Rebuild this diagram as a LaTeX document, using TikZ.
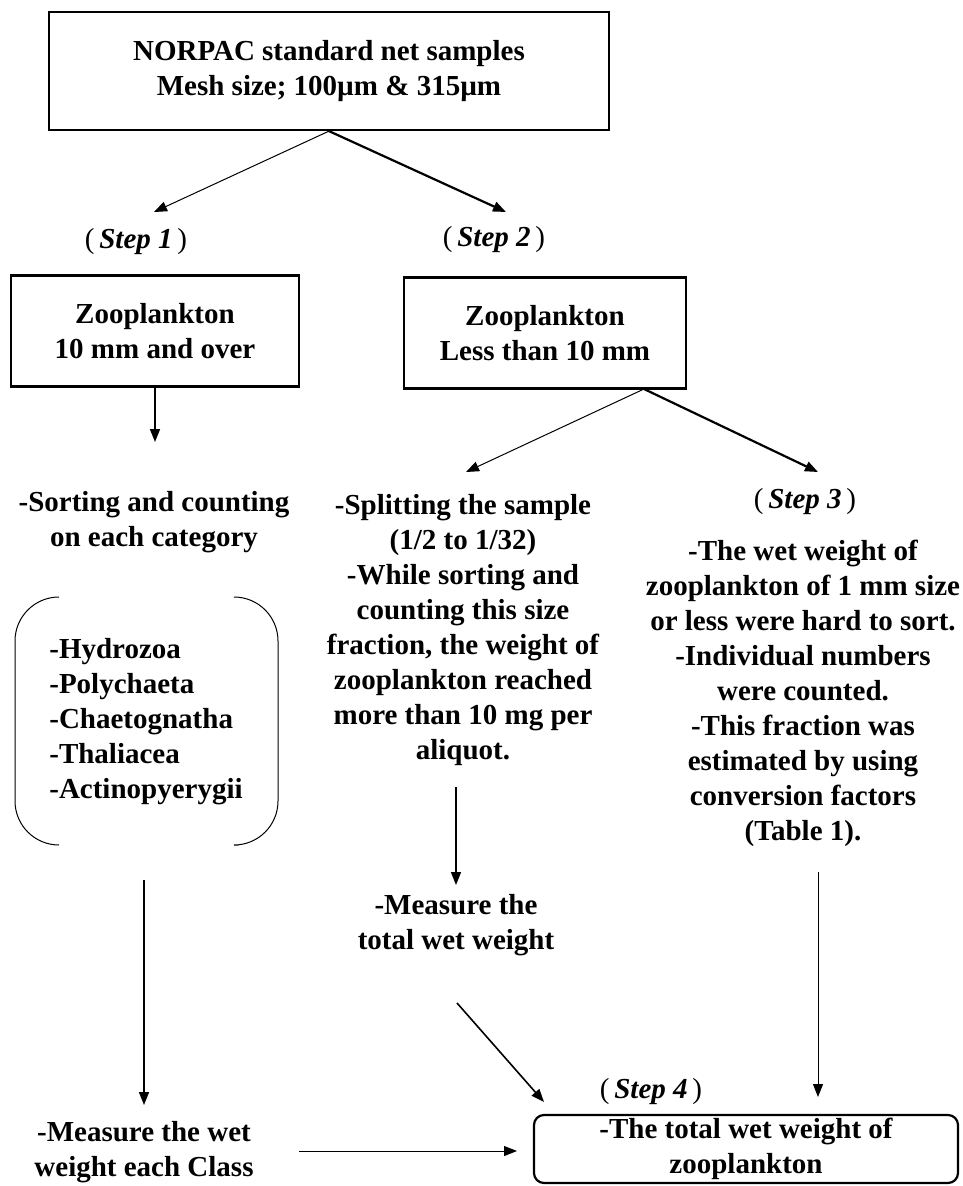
\documentclass[tikz,border=0pt]{standalone}
\usepackage{fontspec}
\setmainfont{Liberation Serif}
\usetikzlibrary{arrows.meta,positioning}
\newcommand{\steplabel}[1]{\textmd{(}\,\textit{Step #1}\,\textmd{)}}

\begin{document}
\begin{tikzpicture}[x=1pt, y=-1pt,
    font=\fontsize{29}{35}\selectfont\bfseries,
    block/.style={rectangle, draw, line width=2.2pt, align=center, inner sep=0pt},
    txt/.style={align=center, inner sep=0pt},
    line/.style={draw, -{Triangle[length=13pt,width=10pt]}, line width=1.6pt},
    thinline/.style={line, line width=1pt},
    thickline/.style={line, line width=2.2pt}
    ]
    \useasboundingbox (0,0) rectangle (963,1186);

    % nodes
    \node[block, minimum width=560pt, minimum height=118pt] (norpac) at (329,71) {NORPAC standard net samples\\Mesh size; 100µm \& 315µm};
    \node[txt] (step1) at (136,242) {\steplabel{1}};
    \node[txt] (step2) at (494,240) {\steplabel{2}};
    \node[block, minimum width=288pt, minimum height=111pt] (large) at (155,331) {Zooplankton\\10 mm and over};
    \node[block, minimum width=282pt, minimum height=111pt] (small) at (545,333) {Zooplankton\\Less than 10 mm};
    \node[txt] (sorting) at (154,522) {-Sorting and counting\\on each category};
    \node[txt] (splitting) at (463,630) {-Splitting the sample\\(1/2 to 1/32)\\-While sorting and\\counting this size\\fraction, the weight of\\zooplankton reached\\more than 10 mg per\\aliquot.};
    \node[txt] (step3) at (805,502) {\steplabel{3}};
    \node[txt] (hardsort) at (803,693) {-The wet weight of\\zooplankton of 1 mm size\\or less were hard to sort.\\-Individual numbers\\were counted.\\-This fraction was\\estimated by using\\conversion factors\\(Table 1).};
    \node[txt, align=left] (taxa) at (146,722) {-Hydrozoa\\-Polychaeta\\-Chaetognatha\\-Thaliacea\\-Actinopyerygii};
    \node[txt] (measure) at (456,925) {-Measure the\\total wet weight};
    \node[txt] (classwt) at (144,1152) {-Measure the wet\\weight each Class};
    \node[txt] (step4) at (651,1092) {\steplabel{4}};
    \node[block, rounded corners=10pt, minimum width=424pt, minimum height=68pt] (total) at (746,1149) {-The total wet weight of\\zooplankton};

    % bracket round the taxa
    \draw[line width=1pt, rounded corners=44pt] (59,597) -- (15,597) -- (15,845) -- (59,845);
    \draw[line width=1pt, rounded corners=44pt] (238,597) -- (278,597) -- (278,845) -- (238,845);

    % free ends of the arrows
    \coordinate (tip1) at (154,212);
    \coordinate (tip2) at (506,212);
    \coordinate (tip3) at (155,442);
    \coordinate (fork) at (644,389);
    \coordinate (tip4) at (466,472);
    \coordinate (tip5) at (818,472);
    \coordinate (from6) at (456,787);
    \coordinate (tip6) at (456,885);
    \coordinate (from7) at (818,872);
    \coordinate (tip7) at (818,1097);
    \coordinate (from8) at (144,880);
    \coordinate (tip8) at (144,1105);
    \coordinate (from9) at (457,1003);
    \coordinate (tip9) at (544,1102);
    \coordinate (from10) at (299,1151);
    \coordinate (tip10) at (517,1151);

    % lines
    \path[thinline] (norpac.south) -- (tip1);
    \path[thickline] (norpac.south) -- (tip2);
    \path[line] (large.south) -- (tip3);
    \path[thinline] (fork) -- (tip4);
    \path[thickline] (fork) -- (tip5);
    \path[line] (from6) -- (tip6);
    \path[thinline] (from7) -- (tip7);
    \path[line] (from8) -- (tip8);
    \path[line] (from9) -- (tip9);
    \path[thinline] (from10) -- (tip10);

\end{tikzpicture}
\end{document}
